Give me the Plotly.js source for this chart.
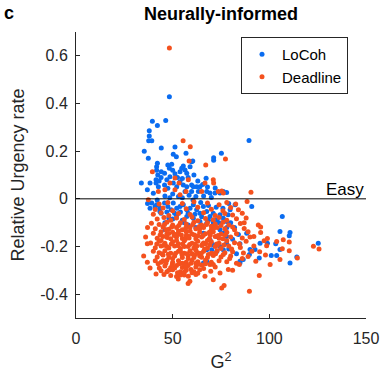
<!DOCTYPE html>
<html>
<head>
<meta charset="utf-8">
<script src="https://cdn.plot.ly/plotly-3.0.1.min.js"></script>
<style>html,body{margin:0;padding:0;background:#fff;}#chart{width:383px;height:379px;}</style>
</head>
<body>
<div id="chart"></div>
<script>
// ---- data ----
const seriesNames = ["LoCoh", "Deadline"];
const xTickVals = [0, 50, 100, 150];
const xTickText = ["0", "50", "100", "150"];
const yTickVals = [-0.4, -0.2, 0, 0.2, 0.4, 0.6];
const yTickText = ["-0.4", "-0.2", "0", "0.2", "0.4", "0.6"];

// LoCoh points: [G^2, relative urgency rate]
const locohPoints = [
  [48.3,0.428],[39.5,0.326],[46.4,0.329],[42.1,0.308],[37.9,0.286],[37.9,0.264],[37.6,0.244],[39.2,0.244],
  [44.1,0.213],[51.2,0.218],[35.3,0.2],[37.4,0.17],[50.3,0.187],[51.9,0.177],[56.9,0.191],[60.4,0.159],
  [75.2,0.191],[71.2,0.172],[71.2,0.162],[42.1,0.149],[41.7,0.135],[49.5,0.145],[47.5,0.142],[48.3,0.128],
  [41.7,0.12],[89.5,0.245],
  [33.8,0.066],[36.9,0.038],[38.3,0.066],[41.4,0.08],[42.3,0.1],[44.1,0.114],[45.8,0.107],[48.6,0.093],
  [51.2,0.105],[53.8,0.114],[54.7,0.128],[55.5,0.138],[56.4,0.121],[57.3,0.107],[59,0.135],[59.8,0.156],
  [45.8,0.058],[47.5,0.044],[42.6,0.051],[40,0.023],[41.4,0.066],[50.3,0.066],[52.1,0.051],[53.8,0.072],
  [55.5,0.058],[57.3,0.051],[59.8,0.058],[60.7,0.051],[62.4,0.051],[64.1,0.051],[63.3,0.031],[59.8,0.031],
  [56.4,0.031],[67.6,0.031],[69.3,0.024],[71.9,0.024],[74.5,0.024],[76.2,0.031],[77.9,0.027],[67.3,0.086],
  [44,0.09],[50,0.02],[53,0.01],[62,0.01],[66,0.012],[70,0.006],[46,0.012],
  [43,0.075],[47,0.08],[50,0.12],[52.5,0.09],[55,0.085],[58,0.09],[61,0.1],[63,0.075],[65.5,0.06],[68,0.05],
  [72,0.045],[58.5,0.015],[55,0.005],[48.5,0.005],
  [39.2,-0.018],[40.9,-0.032],[43.3,-0.039],[45.8,-0.018],[47.5,-0.032],[49.2,-0.046],[50.3,-0.018],[52.1,-0.039],
  [53.8,-0.032],[55.5,-0.025],[57.3,-0.046],[59,-0.039],[60.7,-0.025],[62.4,-0.046],[64.1,-0.06],[65.9,-0.032],
  [67.6,-0.053],[69.3,-0.074],[71,-0.06],[72.8,-0.088],[74.5,-0.067],[76.2,-0.081],[77.9,-0.095],[57.3,-0.074],
  [60.7,-0.081],[64.1,-0.095],[67.6,-0.102],[71,-0.116],[74.5,-0.13],[76.2,-0.144],[72.8,-0.158],[69.3,-0.172],
  [65.9,-0.144],[77.9,-0.158],[71,-0.193],[74.5,-0.2],[76.2,-0.214],[72.8,-0.221],[77.9,-0.186],[70.2,-0.214],
  [67.6,-0.214],[67.6,-0.262],[65.9,-0.269],[82.3,-0.025],[90.9,-0.032],[79.7,-0.046],[78.7,-0.067],[106.7,-0.074],
  [105.5,-0.137],[110.7,-0.141],[88.3,-0.144],[95.2,-0.186],[99,-0.186],[125.3,-0.186],[90,-0.213],[92.6,-0.213],
  [105.5,-0.213],[94.8,-0.248],[110.7,-0.269],[86.5,-0.255],[84.8,-0.269],[84.8,-0.262],[84.8,-0.188],[89.7,-0.234],
  [103.3,-0.188],[114.2,-0.244],[101,-0.238],[103.8,-0.238],[110.3,-0.155],[80,-0.1],[82,-0.12],[84,-0.15],
  [81,-0.17],[79,-0.21],[83,-0.23],[44,-0.06],[48,-0.08],[52,-0.07],[55,-0.09],[58,-0.11],[62,-0.12],[46,-0.1],
  [42,-0.005],[37,-0.02],[38.3,-0.039],[41.7,-0.025],[43.4,-0.053],[46,-0.13],
  [60.5,-0.005],[64.5,-0.015],[68.5,-0.028],[72.5,-0.035],[76,-0.04],[79,-0.02],[47,-0.055],[51,-0.06],
  [54,-0.055],[58,-0.06],[61.5,-0.065],[65,-0.075],[68.5,-0.09],[71,-0.1],[74,-0.1],[78,-0.12],[50,-0.085],[56,-0.1]
];

// Deadline points: [G^2, relative urgency rate]
const deadlinePoints = [
  [48.3,0.633],[55.4,0.244],[59.1,0.219],[58.5,0.159],[67.1,0.142],[77.3,0.167],[39.5,0.114],[51.2,0.087],
  [48.6,0.066],[53.3,0.066],[58.1,0.08],[66.7,0.066],[71,0.08],[71.2,0.066],[73.6,0.031],[75.4,0.033],
  [76.2,0.024],[42.6,0.031],[46,0.038],[51.2,0.038],[56.9,0.031],[65,0.031],[37.4,-0.004],[53.8,0.017],
  [90.5,0.028],[88.5,-0.011],
  [43,-0.022],[47.5,-0.015],[55,-0.02],[61,-0.012],[68,-0.018],[74,-0.025],[78,-0.015],[82.6,-0.022],
  [41,-0.045],[45,-0.038],[50,-0.05],[57,-0.042],[63,-0.035],[70,-0.044],[76,-0.05],[80,-0.036],[84,-0.046],
  [40,-0.065],[44,-0.058],[48,-0.07],[53,-0.062],[59,-0.066],[66,-0.058],[72,-0.07],[77,-0.062],[81,-0.068],[86,-0.06],
  [42,-0.085],[45.5,-0.078],[49,-0.09],[52,-0.08],[56,-0.087],[60,-0.076],[63,-0.092],[67,-0.082],[71,-0.088],
  [74,-0.078],[78,-0.09],[83,-0.084],[88,-0.08],
  [39,-0.102],[43,-0.108],[47,-0.098],[50,-0.11],[54,-0.1],[57,-0.106],[61,-0.098],[65,-0.11],[68,-0.1],
  [72,-0.106],[76,-0.098],[79,-0.11],[85,-0.104],[94.3,-0.11],
  [37,-0.12],[41,-0.126],[45,-0.118],[48,-0.128],[52,-0.12],[55,-0.13],[59,-0.118],[62,-0.126],[66,-0.12],
  [70,-0.13],[73,-0.12],[77,-0.126],[81,-0.118],[87,-0.124],[95.5,-0.118],
  [40,-0.144],[44,-0.138],[47,-0.148],[50,-0.14],[53,-0.146],[57,-0.138],[60,-0.148],[64,-0.14],[67,-0.146],
  [71,-0.138],[75,-0.148],[78,-0.14],[83,-0.146],[89,-0.138],[95.5,-0.141],
  [36,-0.16],[42,-0.165],[45,-0.158],[49,-0.168],[52,-0.16],[55,-0.166],[58,-0.156],[62,-0.168],[65,-0.16],
  [69,-0.166],[72,-0.158],[76,-0.168],[80,-0.16],[86,-0.164],[92,-0.158],[99,-0.166],
  [38.6,-0.185],[43,-0.178],[46,-0.186],[50,-0.18],[53,-0.188],[56,-0.176],[60,-0.186],[63,-0.178],[67,-0.188],
  [70,-0.18],[74,-0.186],[78,-0.176],[82,-0.184],[88,-0.178],[97.3,-0.176],[103.8,-0.179],[107.2,-0.172],[110.3,-0.181],
  [36.9,-0.188],[41,-0.205],[44,-0.198],[48,-0.206],[51,-0.198],[54,-0.208],[58,-0.2],[61,-0.206],[65,-0.196],
  [68,-0.206],[72,-0.2],[75,-0.208],[79,-0.198],[85,-0.204],[92,-0.198],[98.6,-0.197],[106.7,-0.209],[122.8,-0.199],
  [40,-0.22],[43,-0.226],[46,-0.218],[49,-0.228],[53,-0.22],[56,-0.228],[59,-0.218],[63,-0.226],[66,-0.22],
  [70,-0.228],[73,-0.218],[77,-0.226],[81,-0.222],[86.6,-0.227],[95,-0.222],[110.3,-0.218],[125.7,-0.211],
  [35,-0.24],[42,-0.244],[45,-0.236],[48,-0.246],[51,-0.24],[55,-0.246],[58,-0.238],[61,-0.246],[64,-0.24],
  [68,-0.246],[71,-0.238],[75,-0.244],[80,-0.24],[89,-0.242],[98,-0.236],[114.5,-0.248],
  [36.9,-0.266],[41,-0.26],[44,-0.266],[47,-0.258],[50,-0.266],[53,-0.26],[57,-0.266],[60,-0.258],[63,-0.264],
  [67,-0.258],[70,-0.266],[74,-0.26],[78,-0.264],[84.5,-0.276],[93,-0.262],[105.5,-0.255],
  [38.3,-0.29],[43.1,-0.29],[46,-0.282],[49,-0.288],[52,-0.28],[55,-0.288],[58,-0.28],[62,-0.286],[65,-0.278],
  [69.3,-0.276],[72,-0.286],[78.8,-0.297],[100.4,-0.276],
  [41.4,-0.315],[44,-0.302],[47,-0.306],[50,-0.298],[54,-0.306],[57,-0.3],[61,-0.306],[64,-0.298],[69.7,-0.304],
  [74.5,-0.311],[81,-0.3],
  [45.5,-0.318],[49,-0.322],[52,-0.326],[56,-0.32],[58.1,-0.325],[62,-0.318],[66.7,-0.325],[94.8,-0.322],
  [52.9,-0.336],[58.9,-0.346],[71,-0.339],[58,-0.355],[75.4,-0.374],[76.6,-0.364],[89.7,-0.388],
  [46.5,-0.13],[51.5,-0.15],[56.5,-0.17],[61.5,-0.19],[66.5,-0.21],[71.5,-0.23],[54,-0.22],[58,-0.25],[62,-0.27],
  [50,-0.25],[47,-0.2],[52,-0.175],[57,-0.155],[63,-0.155],[68,-0.175],[73,-0.195],[60,-0.23],[55,-0.27],
  [65,-0.245],[69,-0.14],[74,-0.165],[59,-0.135],[64,-0.125],[48,-0.145],[44,-0.175],[56,-0.2],[53,-0.135],
  [62,-0.215],[66,-0.185],[70,-0.115],[45,-0.26],[51,-0.29],[57,-0.29],[60,-0.31],[54,-0.32],
  [45.8,-0.108],[49.5,-0.118],[53.2,-0.112],[56.8,-0.122],[60.4,-0.108],[63.8,-0.116],[67.5,-0.108],[71.3,-0.122],[75,-0.112],
  [43.5,-0.152],[47.2,-0.162],[50.8,-0.154],[54.5,-0.152],[58.5,-0.164],[61.2,-0.152],[65.8,-0.154],[69.5,-0.152],
  [73.5,-0.154],[77.2,-0.152],
  [41.8,-0.19],[45.4,-0.195],[49.3,-0.19],[52.6,-0.196],[55.2,-0.19],[58.8,-0.192],[62.5,-0.198],[65.5,-0.19],
  [69.2,-0.194],[72.8,-0.19],[76.5,-0.194],
  [44.5,-0.23],[47.8,-0.232],[51.5,-0.228],[54.8,-0.234],[57.5,-0.23],[61.8,-0.234],[64.8,-0.228],[68.5,-0.234],
  [72.2,-0.23],[76.2,-0.234],
  [42.5,-0.272],[46.5,-0.27],[49.8,-0.276],[53.5,-0.272],[56.5,-0.278],[59.5,-0.27],[63.5,-0.274],[67,-0.272],[71,-0.276],
  [48,-0.3],[52.5,-0.31],[56,-0.308],[59.5,-0.296],[63,-0.312],[66,-0.292],
  [82,-0.13],[84.5,-0.19],[86,-0.25],[90,-0.16],[91,-0.22],[83,-0.27],[87,-0.1],[80.5,-0.21],[79.5,-0.25]
];

const referenceLevel = 0;
const referenceLabel = "Easy";

// ---- chart ----
const axisColor = "#262626";
const FONT = "Liberation Sans, Arial, Helvetica, sans-serif";

const traces = [
  {
    name: seriesNames[0], type: "scatter", mode: "markers",
    x: locohPoints.map(p => p[0]), y: locohPoints.map(p => p[1]),
    marker: {color: "#0a6cf0", size: 5, line: {width: 0}}
  },
  {
    name: seriesNames[1], type: "scatter", mode: "markers",
    x: deadlinePoints.map(p => p[0]), y: deadlinePoints.map(p => p[1]),
    marker: {color: "#f4511e", size: 5, line: {width: 0}}
  }
];

const layout = {
  width: 383, height: 379,
  margin: {l: 76, r: 17, t: 32, b: 61, pad: 0},
  paper_bgcolor: "#fff", plot_bgcolor: "#fff",
  font: {family: FONT, color: axisColor, size: 16},
  showlegend: true,
  title: {
    text: "<b>Neurally-informed</b>",
    font: {family: FONT, size: 18, color: "#000"},
    xref: "paper", x: 0.5, xanchor: "center",
    yref: "container", y: 1 - 14/379, yanchor: "middle"
  },
  xaxis: {
    range: [0, 150], tickvals: xTickVals, ticktext: xTickText,
    ticks: "inside", ticklen: 4, tickcolor: axisColor, tickwidth: 1,
    showline: true, linecolor: axisColor, linewidth: 1, mirror: false,
    showgrid: false, zeroline: false,
    tickfont: {family: FONT, size: 16, color: axisColor},
    ticklabelstandoff: 6,
    title: {text: "G<sup>2</sup>", font: {family: FONT, size: 18, color: axisColor}, standoff: 9}
  },
  yaxis: {
    range: [-0.5, 0.7], tickvals: yTickVals, ticktext: yTickText,
    ticks: "inside", ticklen: 4, tickcolor: axisColor, tickwidth: 1,
    showline: true, linecolor: axisColor, linewidth: 1, mirror: false,
    showgrid: false, zeroline: false,
    tickfont: {family: FONT, size: 16, color: axisColor},
    ticklabelstandoff: 4,
    title: {text: "Relative Urgency rate", font: {family: FONT, size: 18, color: axisColor}, standoff: 10}
  },
  legend: {
    x: (241 - 76) / 290, y: (318 - 37) / 286, xanchor: "left", yanchor: "top",
    bgcolor: "#fff", bordercolor: axisColor, borderwidth: 1,
    font: {family: FONT, size: 15, color: "#000"},
    itemsizing: "trace", tracegroupgap: 0
  },
  shapes: [{
    type: "line", xref: "x", yref: "y", x0: 0, x1: 150, y0: referenceLevel, y1: referenceLevel,
    line: {color: "#000", width: 1}, layer: "above"
  }],
  annotations: [
    {text: referenceLabel, xref: "x", yref: "y", x: 150, y: referenceLevel, xanchor: "right", yanchor: "bottom",
     showarrow: false, font: {family: FONT, size: 17, color: "#000"}, yshift: -2},
    {text: "<b>c</b>", xref: "paper", yref: "paper", x: (9 - 76) / 290, y: (318 - 13) / 286,
     xanchor: "center", yanchor: "middle", showarrow: false, font: {family: FONT, size: 18, color: "#000"}}
  ]
};

Plotly.newPlot("chart", traces, layout, {displayModeBar: false, staticPlot: true});
</script>
</body>
</html>
